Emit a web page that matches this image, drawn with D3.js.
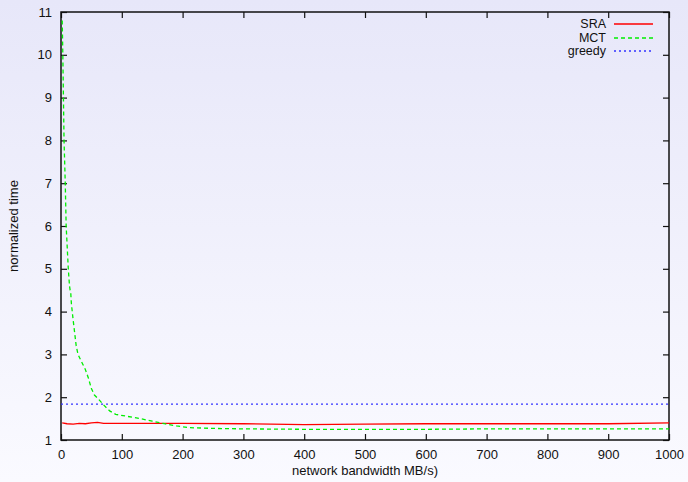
<!DOCTYPE html>
<html>
<head>
<meta charset="utf-8">
<script src="https://cdn.jsdelivr.net/npm/d3@7"></script>
<style>
  html, body { margin: 0; padding: 0; }
  svg { display: block; font-family: "Liberation Sans", Arial, sans-serif; }
</style>
</head>
<body>
<svg width="688" height="482"></svg>
<script>
// values
const bandwidth = [2, 3, 4, 5, 7, 8.5, 12, 14, 15, 16, 17, 20, 25, 28, 33, 40, 45, 50, 55, 62, 70, 80, 90, 110, 130, 150, 170, 190, 210, 250, 300, 400, 500, 600, 700, 800, 900, 1000];
const mct = [10.8, 10.0, 9.0, 8.0, 7.0, 6.0, 5.0, 4.6, 4.5, 4.45, 4.2, 3.8, 3.2, 3.0, 2.85, 2.65, 2.45, 2.2, 2.05, 1.95, 1.82, 1.68, 1.6, 1.55, 1.5, 1.44, 1.38, 1.33, 1.29, 1.27, 1.26, 1.25, 1.25, 1.25, 1.26, 1.26, 1.26, 1.26];

const sraX = [2, 10, 20, 30, 40, 50, 60, 70, 100, 200, 300, 400, 500, 600, 700, 800, 900, 1000];
const sra = [1.40, 1.38, 1.37, 1.39, 1.38, 1.40, 1.41, 1.39, 1.39, 1.39, 1.38, 1.36, 1.37, 1.38, 1.38, 1.38, 1.38, 1.40];

const greedyX = [0, 1000];
const greedy = [1.84, 1.84];

const xTicks = [0, 100, 200, 300, 400, 500, 600, 700, 800, 900, 1000];
const yTicks = [1, 2, 3, 4, 5, 6, 7, 8, 9, 10, 11];

const series = [
  { name: "SRA", xs: sraX, ys: sra, color: "#ff0000", dash: null },
  { name: "MCT", xs: bandwidth, ys: mct, color: "#00ee00", dash: "4,3" },
  { name: "greedy", xs: greedyX, ys: greedy, color: "#3333ff", dash: "2,3" }
];

const W = 688, H = 482;
const plotL = 61, plotR = 669, plotT = 12, plotB = 440;

const svg = d3.select("svg");

// background gradient
const defs = svg.append("defs");
const grad = defs.append("linearGradient")
  .attr("id", "bg").attr("x1", 0).attr("y1", 0).attr("x2", 0).attr("y2", 1);
grad.append("stop").attr("offset", "0%").attr("stop-color", "#e7e7f9");
grad.append("stop").attr("offset", "100%").attr("stop-color", "#fafaff");
svg.append("rect").attr("width", W).attr("height", H).attr("fill", "url(#bg)");

const x = d3.scaleLinear().domain([0, 1000]).range([plotL, plotR]);
const y = d3.scaleLinear().domain([1, 11]).range([plotB, plotT]);

// axes with inward ticks on all four sides
const tickLen = 6;
svg.append("g").attr("transform", `translate(0,${plotB})`)
  .call(d3.axisBottom(x).tickValues(xTicks).tickFormat(d3.format("d"))
    .tickSizeInner(-tickLen).tickSizeOuter(0).tickPadding(10));
svg.append("g").attr("transform", `translate(0,${plotT})`)
  .call(d3.axisTop(x).tickValues(xTicks).tickSizeInner(-tickLen).tickSizeOuter(0).tickFormat(""));
svg.append("g").attr("transform", `translate(${plotL},0)`)
  .call(d3.axisLeft(y).tickValues(yTicks).tickSizeInner(-tickLen).tickSizeOuter(0).tickPadding(9));
svg.append("g").attr("transform", `translate(${plotR},0)`)
  .call(d3.axisRight(y).tickValues(yTicks).tickSizeInner(-tickLen).tickSizeOuter(0).tickFormat(""));

svg.selectAll(".domain").remove();
svg.selectAll(".tick line").attr("stroke", "#111").attr("stroke-width", 1.2);
svg.selectAll(".tick text").attr("font-size", 13).attr("fill", "#111")
  .attr("font-family", "Liberation Sans, Arial, sans-serif");

// border
svg.append("rect")
  .attr("x", plotL).attr("y", plotT)
  .attr("width", plotR - plotL).attr("height", plotB - plotT)
  .attr("fill", "none").attr("stroke", "#111").attr("stroke-width", 1.5);

// lines
const line = d3.line().x(d => x(d[0])).y(d => y(d[1]));
series.forEach(s => {
  svg.append("path")
    .datum(d3.zip(s.xs, s.ys))
    .attr("fill", "none")
    .attr("stroke", s.color)
    .attr("stroke-width", 1.3)
    .attr("stroke-dasharray", s.dash)
    .attr("d", line);
});

// legend
const legend = svg.append("g");
series.forEach((s, i) => {
  const ly = [24, 38, 51][i];
  legend.append("text")
    .attr("x", 606).attr("y", ly + 4)
    .attr("text-anchor", "end")
    .attr("font-size", 12.5).attr("fill", "#111")
    .text(s.name);
  legend.append("line")
    .attr("x1", 614).attr("x2", 653)
    .attr("y1", ly).attr("y2", ly)
    .attr("stroke", s.color).attr("stroke-width", 1.3)
    .attr("stroke-dasharray", s.dash);
});

// axis titles
svg.append("text")
  .attr("x", (plotL + plotR) / 2).attr("y", 475)
  .attr("text-anchor", "middle").attr("font-size", 13).attr("fill", "#111")
  .text("network bandwidth MB/s)");
svg.append("text")
  .attr("transform", `translate(18,${(plotT + plotB) / 2}) rotate(-90)`)
  .attr("text-anchor", "middle").attr("font-size", 13).attr("fill", "#111")
  .text("normalized time");
</script>
</body>
</html>
